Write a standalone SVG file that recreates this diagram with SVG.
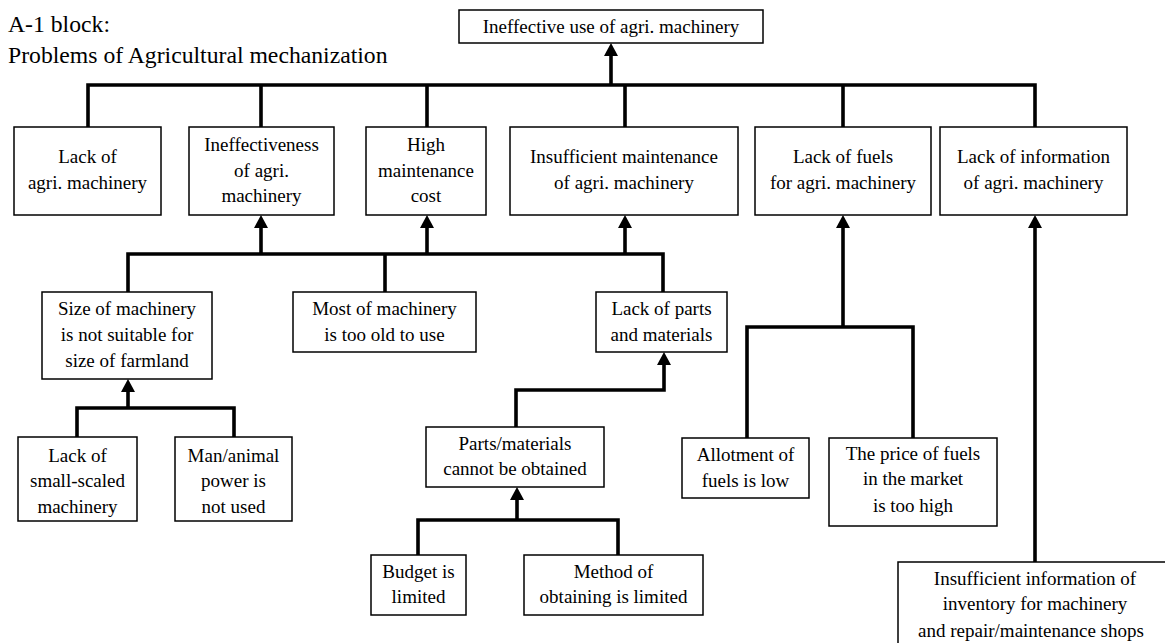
<svg xmlns="http://www.w3.org/2000/svg" width="1165" height="643" viewBox="0 0 1165 643">
  <style>
    .box { fill: #fff; stroke: #000; stroke-width: 1.5; }
    .t { font-family: "Liberation Serif", "Times New Roman", serif; font-size: 19px; fill: #000; text-anchor: middle; }
    .title { font-family: "Liberation Serif", "Times New Roman", serif; font-size: 23.7px; fill: #000; }
    .wire { fill: none; stroke: #000; stroke-width: 3.6; stroke-linejoin: miter; }
  </style>
  <defs>
    <marker id="head" viewBox="0 0 13 14" refX="0" refY="7" markerWidth="13" markerHeight="14" markerUnits="userSpaceOnUse" orient="auto">
      <path d="M0,0 L13,7 L0,14 z" fill="#000"/>
    </marker>
  </defs>

  <rect width="1165" height="643" fill="#fff"/>

  <g id="title">
    <text class="title" x="8" y="32">A-1 block:</text>
    <text class="title" x="8" y="63">Problems of Agricultural mechanization</text>
  </g>

  <!-- connectors -->
  <g id="connectors">
    <!-- level 1 to root -->
    <path class="wire" d="M88,127 V85 H1035 V127"/>
    <path class="wire" d="M261,85 V127 M427,85 V127 M625,85 V127 M843,85 V127"/>
    <path class="wire" d="M611,85 V56" marker-end="url(#head)"/>
    <!-- level 2 to level 1 -->
    <path class="wire" d="M128,292 V254 H663 V292"/>
    <path class="wire" d="M385,254 V292"/>
    <path class="wire" d="M261,254 V228" marker-end="url(#head)"/>
    <path class="wire" d="M427,254 V228" marker-end="url(#head)"/>
    <path class="wire" d="M625,254 V228" marker-end="url(#head)"/>
    <!-- size of machinery -->
    <path class="wire" d="M77,437 V408 H234 V437"/>
    <path class="wire" d="M128,408 V392" marker-end="url(#head)"/>
    <!-- parts chain -->
    <path class="wire" d="M516,427 V390 H664 V365" marker-end="url(#head)"/>
    <path class="wire" d="M418,555 V520 H618 V555"/>
    <path class="wire" d="M517,520 V500" marker-end="url(#head)"/>
    <!-- fuels -->
    <path class="wire" d="M747,438 V327 H913 V438"/>
    <path class="wire" d="M843,327 V228" marker-end="url(#head)"/>
    <!-- information -->
    <path class="wire" d="M1035,562 V228" marker-end="url(#head)"/>
  </g>

  <g id="root">
    <rect class="box" x="459" y="10" width="304" height="33"/>
    <text class="t" x="611" y="33">Ineffective use of agri. machinery</text>
  </g>

  <g id="lack-machinery">
    <rect class="box" x="14" y="127" width="147" height="88"/>
    <text class="t" x="87.5" y="163">Lack of</text>
    <text class="t" x="87.5" y="189">agri. machinery</text>
  </g>

  <g id="ineffectiveness">
    <rect class="box" x="189" y="127" width="145" height="88"/>
    <text class="t" x="261.5" y="151">Ineffectiveness</text>
    <text class="t" x="261.5" y="177">of agri.</text>
    <text class="t" x="261.5" y="202">machinery</text>
  </g>

  <g id="high-cost">
    <rect class="box" x="366" y="127" width="120" height="88"/>
    <text class="t" x="426" y="151">High</text>
    <text class="t" x="426" y="177">maintenance</text>
    <text class="t" x="426" y="202">cost</text>
  </g>

  <g id="insufficient-maintenance">
    <rect class="box" x="510" y="127" width="228" height="88"/>
    <text class="t" x="624" y="163">Insufficient maintenance</text>
    <text class="t" x="624" y="189">of agri. machinery</text>
  </g>

  <g id="lack-fuels">
    <rect class="box" x="755" y="127" width="176" height="88"/>
    <text class="t" x="843" y="163">Lack of fuels</text>
    <text class="t" x="843" y="189">for agri. machinery</text>
  </g>

  <g id="lack-information">
    <rect class="box" x="940" y="127" width="187" height="88"/>
    <text class="t" x="1033.5" y="163">Lack of information</text>
    <text class="t" x="1033.5" y="189">of agri. machinery</text>
  </g>

  <g id="size-unsuitable">
    <rect class="box" x="42" y="292" width="170" height="87"/>
    <text class="t" x="127" y="315">Size of machinery</text>
    <text class="t" x="127" y="341">is not suitable for</text>
    <text class="t" x="127" y="367">size of farmland</text>
  </g>

  <g id="too-old">
    <rect class="box" x="293" y="292" width="183" height="60"/>
    <text class="t" x="384.5" y="315">Most of machinery</text>
    <text class="t" x="384.5" y="341">is too old to use</text>
  </g>

  <g id="lack-parts">
    <rect class="box" x="596" y="292" width="131" height="60"/>
    <text class="t" x="661.5" y="315">Lack of parts</text>
    <text class="t" x="661.5" y="341">and materials</text>
  </g>

  <g id="small-scaled">
    <rect class="box" x="18" y="437" width="119" height="84"/>
    <text class="t" x="77.5" y="462">Lack of</text>
    <text class="t" x="77.5" y="487">small-scaled</text>
    <text class="t" x="77.5" y="513">machinery</text>
  </g>

  <g id="man-animal">
    <rect class="box" x="175" y="437" width="117" height="84"/>
    <text class="t" x="233.5" y="462">Man/animal</text>
    <text class="t" x="233.5" y="487">power is</text>
    <text class="t" x="233.5" y="513">not used</text>
  </g>

  <g id="parts-not-obtained">
    <rect class="box" x="426" y="427" width="178" height="60"/>
    <text class="t" x="515" y="450">Parts/materials</text>
    <text class="t" x="515" y="475">cannot be obtained</text>
  </g>

  <g id="budget">
    <rect class="box" x="371" y="555" width="95" height="60"/>
    <text class="t" x="418.5" y="578">Budget is</text>
    <text class="t" x="418.5" y="603">limited</text>
  </g>

  <g id="method">
    <rect class="box" x="524" y="555" width="179" height="60"/>
    <text class="t" x="613.5" y="578">Method of</text>
    <text class="t" x="613.5" y="603">obtaining is limited</text>
  </g>

  <g id="allotment">
    <rect class="box" x="682" y="438" width="127" height="60"/>
    <text class="t" x="745.5" y="461">Allotment of</text>
    <text class="t" x="745.5" y="487">fuels is low</text>
  </g>

  <g id="fuel-price">
    <rect class="box" x="829" y="438" width="168" height="88"/>
    <text class="t" x="913" y="460">The price of fuels</text>
    <text class="t" x="913" y="485">in the market</text>
    <text class="t" x="913" y="512">is too high</text>
  </g>

  <g id="inventory-info">
    <rect class="box" x="898" y="562" width="280" height="90"/>
    <text class="t" x="1035" y="585">Insufficient information of</text>
    <text class="t" x="1035" y="610">inventory for machinery</text>
    <text class="t" x="1031" y="637">and repair/maintenance shops</text>
  </g>
</svg>
